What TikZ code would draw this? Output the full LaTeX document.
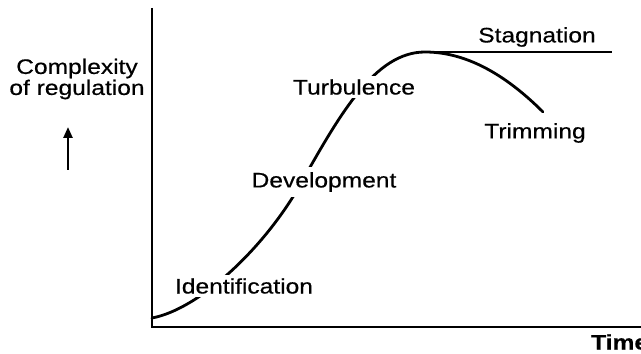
\documentclass[tikz,border=0pt]{standalone}
\usepackage{fontspec}
\setmainfont{Liberation Sans}[FakeStretch=1.17, FakeBold=0.5]
\usetikzlibrary{arrows.meta}
\begin{document}
\begin{tikzpicture}[x=1pt,y=1pt,
  lbl/.style={font=\fontsize{21}{24}\selectfont, inner sep=2pt},
  gaplbl/.style={lbl, fill=white, inner xsep=1.5pt, inner ysep=3pt},
  axis/.style={line width=2.4pt},
  curve/.style={line width=2.8pt, line cap=round}]
\useasboundingbox (0,0) rectangle (641,354);
\coordinate (O) at (152,27);
\coordinate (ytop) at (152,346);
\coordinate (xend) at (645,27);
\draw[axis] (ytop) -- (O) -- (xend);
% main curve
\coordinate (c0) at (152,36);
\coordinate (c1) at (300,169);
\coordinate (peak) at (425,302);
\coordinate (c3) at (543,242);
\draw[curve] (c0) .. controls (200,45) and (265,107) .. (c1)
  .. controls (340,240) and (375,302) .. (peak)
  .. controls (470,302) and (510,275) .. (c3);
\coordinate (stagB) at (612,302);
\draw[line width=2.2pt] (peak) -- (stagB);
% labels
\node[gaplbl] (ident) at (244,68) {Identification};
\node[gaplbl, inner ysep=5pt] (dev) at (324,172) {Development};
\node[gaplbl] (turb) at (354,267) {Turbulence};
\node[lbl] (stag) at (537,317) {Stagnation};
\node[lbl] (trim) at (535,221) {Trimming};
\node[lbl, align=center] (ylab) at (77,275) {Complexity\\[-3pt]of regulation};
\node[lbl, anchor=west, font=\fontsize{21}{24}\selectfont\bfseries] (time) at (589,12) {Time};
\coordinate (arA) at (68,184);
\coordinate (arB) at (68,227);
\draw[line width=2.4pt, -{Triangle[length=11pt,width=9pt]}] (arA) -- (arB);
\end{tikzpicture}
\end{document}
